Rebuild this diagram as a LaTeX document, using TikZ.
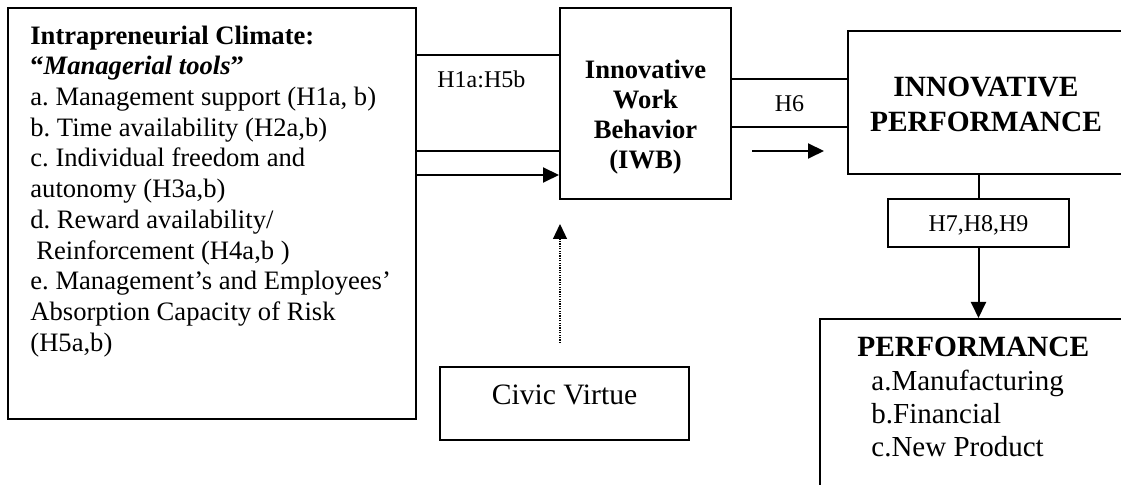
\documentclass[tikz,border=0pt]{standalone}
\usepackage{fontspec}
\setmainfont{Liberation Serif}
\usetikzlibrary{arrows.meta,fit}
\frenchspacing

\begin{document}
\begin{tikzpicture}[x=0.5pt,y=-0.5pt,
  box/.style={draw,line width=1pt,rectangle,inner sep=0pt},
  txt/.style={inner sep=0pt,font=\fontsize{13.3}{15.35}\selectfont},
  hyp/.style={inner sep=0pt,font=\fontsize{12}{14}\selectfont},
  big/.style={inner sep=0pt,font=\fontsize{14.7}{17.5}\selectfont\bfseries},
  arr/.style={line width=1pt,-{Triangle[length=8pt,width=7.5pt]}},
  dotarr/.style={line width=0.6pt,dash pattern=on 0.6pt off 0.6pt,
                 -{Triangle[length=7.5pt,width=7pt]}},
  link/.style={line width=1pt}]

\useasboundingbox (0,0) rectangle (1121,485);
\clip (0,0) rectangle (1121,485);

% boxes
\node[box,fit={(8,8)(416,419)}]      (clim)  {};
\node[box,fit={(416,55)(560,151)}]   (hyp1)  {};
\node[box,fit={(560,8)(731,199)}]    (iwb)   {};
\node[box,fit={(731,79)(848,127)}]   (hyp6)  {};
\node[box,fit={(848,31)(1160,174)}]  (ip)    {};
\node[box,fit={(888,199)(1069,247)}] (hyp7)  {};
\node[box,fit={(820,319)(1160,520)}] (perf)  {};
\node[box,fit={(440,367)(689,440)}]  (civic) {};

% texts
\node[txt,anchor=north west,align=left] (climtext) at (30,25.3) {%
  \textbf{Intrapreneurial Climate:}\\
  \textbf{“\textit{Managerial tools}”}\\
  a. Management support (H1a, b)\\
  b. Time availability (H2a,b)\\
  c. Individual freedom and\\
  autonomy (H3a,b)\\
  d. Reward availability/\\
  \hspace*{3pt}Reinforcement (H4a,b )\\
  e. Management’s and Employees’\\
  Absorption Capacity of Risk\\
  (H5a,b)};

\node[hyp,anchor=base west] (hyp1text) at (437,88) {H1a:H5b};

\node[txt,anchor=north,align=center,font=\fontsize{13.3}{15}\selectfont\bfseries]
  (iwbtext) at (645.5,59.3) {Innovative\\Work\\Behavior\\(IWB)};

\node[hyp,anchor=base] (hyp6text) at (789.5,112) {H6};

\node[big,anchor=north,align=center] (iptext) at (986,76.5)
  {INNOVATIVE\\PERFORMANCE};

\node[hyp,anchor=base] (hyp7text) at (978.5,232) {H7,H8,H9};

\node[big,anchor=base west] (perftitle) at (857,357) {PERFORMANCE};
\node[txt,anchor=north west,align=left,font=\fontsize{14.5}{16.5}\selectfont]
  (perflist) at (871,370) {a.Manufacturing\\b.Financial\\c.New Product};

\node[inner sep=0pt,anchor=base,font=\fontsize{14.8}{17}\selectfont]
  (civictext) at (564.5,405) {Civic Virtue};

% connectors
\coordinate (in1) at (480,175);
\draw[arr] (clim.east |- in1) -- (iwb.west |- in1);

\coordinate (out1) at (752,151);
\coordinate (out2) at (824,151);
\draw[arr] (out1) -- (out2);

\draw[link] (hyp7.north |- ip.south) -- (hyp7.north);
\draw[arr] (hyp7.south) -- (hyp7.south |- perf.north);

\coordinate (mod1) at (560,343);
\coordinate (mod2) at (560,224);
\draw[dotarr] (mod1) -- (mod2);

\end{tikzpicture}
\end{document}
